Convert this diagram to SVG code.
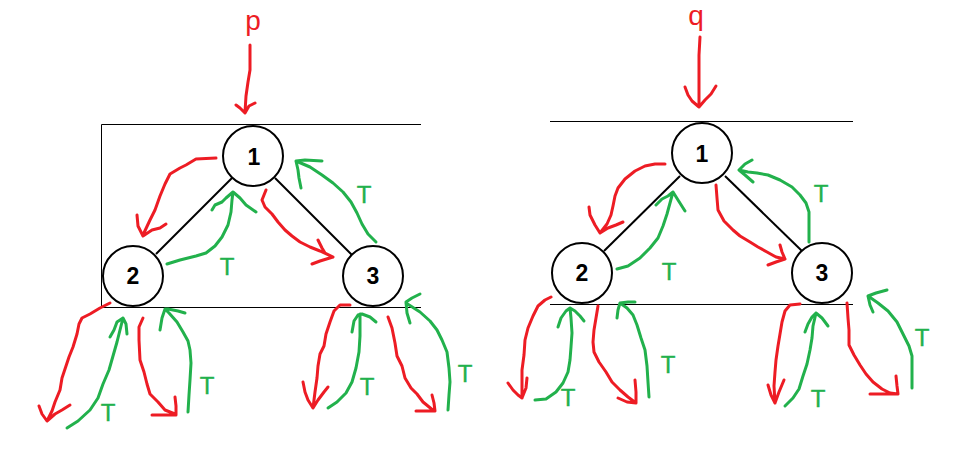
<svg xmlns="http://www.w3.org/2000/svg" width="959" height="450" viewBox="0 0 959 450">
<style>
.bg{fill:#ffffff}
.node circle{fill:#ffffff;stroke:#000;stroke-width:2}
.node text{font-family:"Liberation Sans",Arial,sans-serif;font-weight:bold;font-size:23px;fill:#000;text-anchor:middle}
.edge{stroke:#000;stroke-width:2;fill:none}
.frame{stroke:#000;stroke-width:1;fill:none}
.r{stroke:#ed1c24;stroke-width:3;fill:none;stroke-linecap:round;stroke-linejoin:round}
.g{stroke:#22b14c;stroke-width:3;fill:none;stroke-linecap:round;stroke-linejoin:round}
.tl{font-family:"Liberation Sans",Arial,sans-serif;font-size:24px;fill:#22b14c;stroke:#22b14c;stroke-width:0.4;text-anchor:middle}
.ptr{font-family:"Liberation Sans",Arial,sans-serif;font-size:28px;fill:#ed1c24;text-anchor:middle}
</style>
<rect class="bg" x="0" y="0" width="959" height="450"/>

<g id="frames">
<path class="frame" d="M421,124.5 H101.5 V307.5 H421"/>
<path class="frame" d="M550,121.5 H853 M550,304.5 H853"/>
</g>

<g id="connectors">
<!-- tree edges -->
<line class="edge" x1="232" y1="178" x2="156" y2="254"/>
<line class="edge" x1="275" y1="178" x2="352" y2="255"/>
<line class="edge" x1="680" y1="176" x2="604" y2="251"/>
<line class="edge" x1="725" y1="176" x2="802" y2="251"/>

<!-- left tree: pointer p -->
<path class="r" d="M250,45 L250,70 L248,82 L246,96 L245,112 M236,105 L240,108 L245,113 L249,106 L255,103"/>
<!-- 1 -> 2 -->
<path class="r" d="M216,158 L196,159 L186,165 L180,168 L170,174 L165,184 L160,196 L155,210 L150,220 L143,235 M137,215 L138,226 L143,236 L152,230 L160,228 L166,224"/>
<!-- 2 -> 1 (T) -->
<path class="g" d="M167,264 L180,260 L196,256 L206,253 L215,246 L222,237 L228,225 L231,212 L232,200 L233,192 M212,210 L215,205 L222,202 L226,198 L233,192 L240,198 L246,205 L256,212"/>
<text class="tl" x="227" y="275">T</text>
<!-- 1 -> 3 -->
<path class="r" d="M266,190 L262,200 L265,207 L272,214 L278,222 L285,230 L292,236 L300,242 L310,247 L320,251 L333,257 M318,240 L322,248 L325,253 L333,257 M312,264 L320,261 L333,257"/>
<!-- 3 -> 1 (T) -->
<path class="g" d="M376,242 L368,234 L362,224 L357,213 L351,202 L343,192 L333,183 L322,175 L310,167 L296,161 M322,161 L305,160 L296,161 L298,170 L299,178 L301,188"/>
<text class="tl" x="364" y="203">T</text>

<!-- left tree: under 2 -->
<path class="r" d="M110,303 L100,308 L90,314 L82,318 L79,324 L77,334 L73,347 L69,357 L66,366 L62,378 L60,390 L55,402 L52,411 L47,421 M39,406 L42,414 L47,421 L55,414 L62,410 L70,405"/>
<path class="g" d="M67,428 L78,421 L90,410 L98,398 L103,384 L109,370 L113,356 L117,342 L120,330 L123,318 M110,337 L114,330 L117,322 L123,318 L126,324 L127,334"/>
<text class="tl" x="108" y="421">T</text>
<path class="r" d="M143,318 L139,327 L139,340 L140,360 L144,372 L147,384 L150,394 L158,402 L165,410 L175,414 M152,415 L165,415 L176,415 M175,397 L176,406 L176,415"/>
<path class="g" d="M188,412 L189,395 L190,380 L191,363 L190,350 L188,341 L183,332 L177,322 L169,313 L165,309 M185,313 L178,311 L168,309 L165,309 L162,318 L160,330"/>
<text class="tl" x="207" y="394">T</text>

<!-- left tree: under 3 -->
<path class="r" d="M350,305 L340,305 L334,311 L330,322 L326,334 L324,346 L320,354 L318,366 L317,378 L315,392 L313,408 M303,382 L305,392 L308,400 L313,408 L318,400 L324,392 L328,387"/>
<path class="g" d="M328,408 L337,402 L346,393 L352,382 L356,368 L359,352 L360,336 L360,326 L360,314 M352,332 L354,321 L358,315 L362,314 L370,317 L376,322"/>
<text class="tl" x="367" y="395">T</text>
<path class="r" d="M388,317 L392,328 L395,343 L397,356 L402,366 L405,378 L411,388 L417,394 L423,402 L434,411 M416,411 L425,411 L435,411 M432,395 L434,403 L435,411"/>
<path class="g" d="M448,410 L449,395 L450,382 L449,368 L447,352 L442,340 L437,330 L430,321 L420,312 L406,303 M420,294 L412,298 L406,302 L407,313 L410,323"/>
<text class="tl" x="465" y="382">T</text>

<!-- right tree: pointer q -->
<path class="r" d="M700,37 L699,55 L699,75 L699,92 L699,107 M685,87 L688,95 L692,101 L699,107 L705,100 L711,94 L716,86"/>
<!-- 1 -> 2 -->
<path class="r" d="M665,164 L655,164 L645,166 L635,171 L625,179 L618,188 L615,196 L613,206 L611,215 L607,224 L600,233 M589,207 L590,215 L595,225 L600,233 L608,228 L616,225 L623,222"/>
<!-- 2 -> 1 (T) -->
<path class="g" d="M617,269 L628,266 L640,258 L650,248 L658,238 L663,226 L667,214 L670,203 L673,192 M656,205 L662,199 L668,196 L673,192 L678,200 L685,211"/>
<text class="tl" x="669" y="280">T</text>
<!-- 1 -> 3 -->
<path class="r" d="M716,185 L717,198 L718,210 L724,221 L733,230 L740,236 L750,242 L758,247 L767,252 L776,257 L785,259 M780,245 L782,252 L785,259 M768,265 L776,262 L785,259"/>
<!-- 3 -> 1 (T) -->
<path class="g" d="M809,242 L809,226 L809,212 L806,203 L800,195 L792,187 L780,180 L768,175 L757,173 L748,172 L739,170 M752,160 L745,164 L739,170 L745,175 L753,182"/>
<text class="tl" x="821" y="202">T</text>

<!-- right tree: under 2 -->
<path class="r" d="M551,297 L545,300 L538,306 L533,316 L528,328 L525,340 L524,355 L522,370 L522,385 L522,398 M508,383 L513,390 L518,395 L522,398 M527,378 L526,388 L522,398"/>
<path class="g" d="M535,400 L546,399 L556,392 L563,383 L568,372 L570,360 L571,347 L572,333 L571,318 L570,308 M558,327 L561,318 L566,311 L570,308 L575,311 L580,316 L584,321"/>
<text class="tl" x="568" y="406">T</text>
<path class="r" d="M598,306 L596,318 L594,330 L593,342 L594,352 L599,362 L606,372 L612,382 L620,390 L628,397 L636,403 M635,380 L636,392 L636,403 M618,398 L627,402 L636,403"/>
<path class="g" d="M649,397 L648,382 L647,366 L645,350 L641,338 L637,325 L633,315 L627,308 L620,303 M635,302 L628,302 L620,303 L618,310 L617,318"/>
<text class="tl" x="668" y="373">T</text>

<!-- right tree: under 3 -->
<path class="r" d="M800,304 L790,305 L785,311 L782,322 L780,334 L778,346 L776,360 L775,372 L774,386 L775,403 M768,385 L771,395 L775,403 M784,380 L779,392 L775,403"/>
<path class="g" d="M785,406 L793,398 L799,389 L803,376 L807,364 L810,350 L812,338 L813,326 L816,313 M805,332 L808,324 L812,317 L816,313 L822,318 L828,326"/>
<text class="tl" x="818" y="407">T</text>
<path class="r" d="M847,303 L848,318 L849,330 L849,345 L854,355 L860,365 L866,374 L873,382 L882,389 L890,393 L898,394 M870,394 L882,394 L898,394 M896,376 L897,386 L898,394"/>
<path class="g" d="M912,388 L912,372 L912,356 L909,346 L903,334 L897,322 L888,311 L878,303 L868,296 M887,290 L876,293 L868,296 L870,305 L873,312"/>
<text class="tl" x="922" y="346">T</text>
</g>

<g id="label-p"><text class="ptr" x="253" y="30">p</text></g>
<g id="label-q"><text class="ptr" x="696" y="25">q</text></g>

<g id="p-node-1" class="node"><circle cx="253" cy="156" r="30"/><text x="254" y="164.5">1</text></g>
<g id="p-node-2" class="node"><circle cx="133" cy="276" r="30"/><text x="133" y="284">2</text></g>
<g id="p-node-3" class="node"><circle cx="373" cy="276" r="30"/><text x="373" y="284">3</text></g>
<g id="q-node-1" class="node"><circle cx="702" cy="153" r="30"/><text x="702" y="161.5">1</text></g>
<g id="q-node-2" class="node"><circle cx="582" cy="273" r="30"/><text x="582" y="281">2</text></g>
<g id="q-node-3" class="node"><circle cx="822" cy="273" r="30"/><text x="822" y="281">3</text></g>
</svg>
